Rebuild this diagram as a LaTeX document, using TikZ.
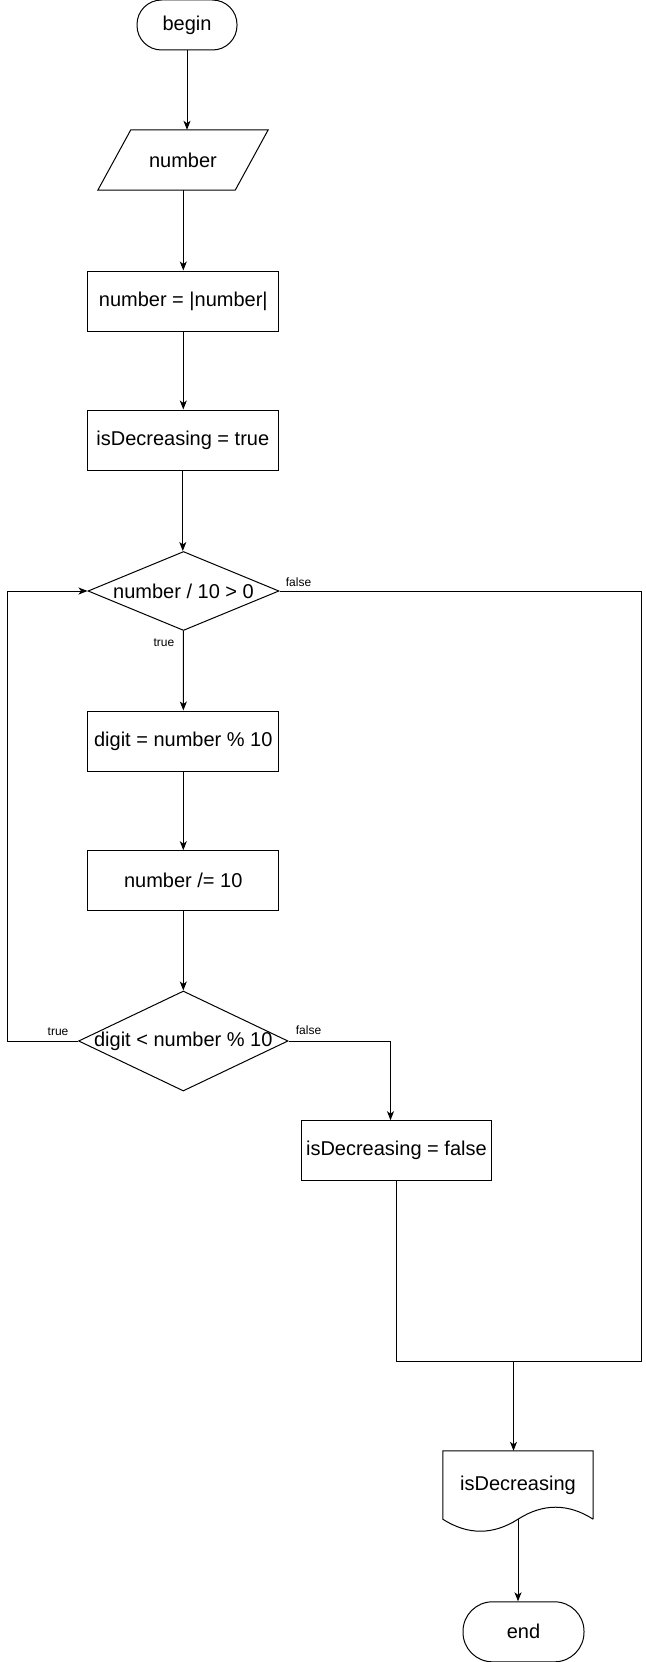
\documentclass[tikz,border=0pt]{standalone}
\usepackage{fontspec}
\setmainfont{Liberation Sans}
\usetikzlibrary{shapes.geometric,arrows.meta,calc}

\begin{document}
\begin{tikzpicture}[x=1pt,y=-1pt,
  every node/.style={inner sep=0pt, font=\fontsize{20}{24}\selectfont},
  line/.style={line width=1pt, draw=black},
  flow/.style={line, -{Stealth[length=9pt,width=7pt,inset=2.5pt]}},
  box/.style={draw, line width=1pt, rectangle, minimum width=191pt, minimum height=60pt},
  term/.style={draw, line width=1pt, rectangle, minimum height=50pt, rounded corners=24.5pt},
  decision/.style={draw, line width=1pt, diamond, minimum width=191pt, minimum height=79pt},
  lbl/.style={font=\fontsize{12}{14}\selectfont}
]
\useasboundingbox (0,0) rectangle (645,1662);

% start / input / initialisation
\node[term, minimum width=100pt] (begin) at (187,25) {begin};
\node[minimum width=137pt, minimum height=60pt] (in) at (183,160) {number};
\draw[line] ($(in.south west)+(-16.5,0)$) -- ($(in.south east)+(-16.5,0)$)
  -- ($(in.north east)+(16.5,0)$) -- ($(in.north west)+(16.5,0)$) -- cycle;
\node[box] (abs) at (183.3,301) {number = |number|};
\node[box] (init) at (182.8,440) {isDecreasing = true};

% loop
\node[decision] (d1) at (183.5,591) {\makebox[0pt]{number / 10 > 0}};
\node[box] (dig) at (183.3,741) {digit = number \% 10};
\node[box] (div) at (183.3,880.7) {number /= 10};
\node[decision, minimum width=209.5pt, minimum height=100pt] (d2) at (183.3,1041)
  {\makebox[0pt]{digit < number \% 10}};
\node[box, minimum width=189.5pt] (setf) at (396.4,1150.7) {isDecreasing = false};

% output / end
\node[minimum width=150pt, minimum height=68pt] (doc) at (518,1485) {isDecreasing};
\draw[line] (doc.south east) -- (doc.north east) -- (doc.north west) -- (doc.south west)
  .. controls ($(doc.south west)+(25,16)$) and ($(doc.south)+(-25,16)$) .. (doc.south)
  .. controls ($(doc.south)+(25,-16)$) and ($(doc.south east)+(-25,-16)$) .. (doc.south east);
\node[term, minimum width=121pt, minimum height=60pt, rounded corners=29.5pt] (end) at (523.5,1631.8) {end};

% helper points for routed connectors
\coordinate (loopx) at (7.5,0);
\coordinate (rightx) at (641.5,0);
\coordinate (merge) at (513.5,1361);
\coordinate (fx) at (390.5,0);

% connectors
\draw[flow] (begin.south) -- (begin.south |- in.north);
\draw[flow] (in.south -| abs.north) -- (abs.north);
\draw[flow] (abs.south) -- (abs.south |- init.north);
\draw[flow] (init.south) -- (init.south |- d1.north);
\draw[flow] (d1) -- (dig);
\draw[flow] (dig) -- (div);
\draw[flow] (div) -- (d2);
\draw[flow] (d2.west) -- (d2.west -| loopx) |- (d1.west);
\draw[flow] (d2.east) -- (d2.east -| fx) -- (fx |- setf.north);
\draw[line] (d1.east) -- (d1.east -| rightx) |- (merge);
\draw[line] (setf.south) |- (merge);
\draw[flow] (merge) -- (merge |- doc.north);
\draw[flow] (doc.south) -- (doc.south |- end.north);

% branch labels
\node[lbl] (t1) at ($(d1.south)+(-19.5,11.7)$) {true};
\node[lbl] (f1) at ($(d1.east)+(19,-9)$) {false};
\node[lbl] (t2) at ($(d2.west)+(-20,-9.3)$) {true};
\node[lbl] (f2) at ($(d2.east)+(20,-11)$) {false};
\end{tikzpicture}
\end{document}
